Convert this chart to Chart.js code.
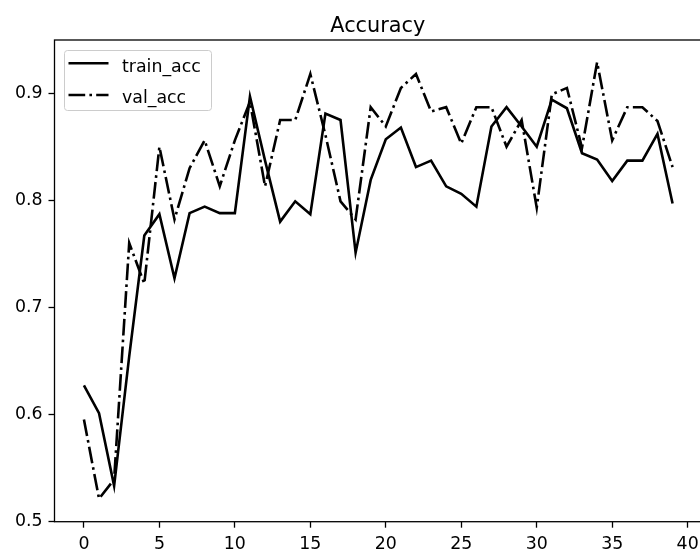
<!DOCTYPE html>
<html>
<head>
<meta charset="utf-8">
<script src="https://cdn.jsdelivr.net/npm/chart.js@4.4.0/dist/chart.umd.min.js"></script>
<style>
  html, body { margin: 0; padding: 0; background: #fff; overflow: hidden; }
  #wrap { width: 712px; height: 552px; }
</style>
</head>
<body>
<div id="wrap"><canvas id="accChart" width="712" height="552"></canvas></div>
<script>
// Epochs and accuracy values
const epochs = [0, 1, 2, 3, 4, 5, 6, 7, 8, 9, 10, 11, 12, 13, 14, 15, 16, 17, 18, 19,
  20, 21, 22, 23, 24, 25, 26, 27, 28, 29, 30, 31, 32, 33, 34, 35, 36, 37, 38, 39];
const trainAcc = [0.627, 0.601, 0.533, 0.654, 0.767, 0.787, 0.727, 0.788, 0.794, 0.788,
  0.788, 0.897, 0.837, 0.780, 0.799, 0.787, 0.881, 0.875, 0.751, 0.819,
  0.857, 0.868, 0.831, 0.837, 0.813, 0.806, 0.794, 0.869, 0.887, 0.869,
  0.850, 0.894, 0.886, 0.844, 0.838, 0.818, 0.837, 0.837, 0.862, 0.797];
const valAcc = [0.595, 0.521, 0.539, 0.760, 0.722, 0.850, 0.782, 0.830, 0.856, 0.813,
  0.856, 0.892, 0.813, 0.875, 0.875, 0.918, 0.861, 0.799, 0.782, 0.887,
  0.869, 0.905, 0.918, 0.883, 0.887, 0.853, 0.887, 0.887, 0.850, 0.875,
  0.793, 0.899, 0.905, 0.849, 0.929, 0.856, 0.887, 0.887, 0.874, 0.831];
const xTicks = [0, 5, 10, 15, 20, 25, 30, 35, 40];
const yTicks = [0.5, 0.6, 0.7, 0.8, 0.9];
const seriesNames = ["train_acc", "val_acc"];
const chartTitle = "Accuracy";

const FONT = "DejaVu Sans";
const valDash = [16.7, 4.2, 2.6, 4.2];

// Spines + title + legend drawn like matplotlib
const mplDecor = {
  id: "mplDecor",
  afterDatasetsDraw(chart) {
    const { ctx, chartArea: a } = chart;
    ctx.save();
    // spines
    ctx.strokeStyle = "#000";
    ctx.lineWidth = 1.3;
    ctx.strokeRect(a.left, a.top, a.right - a.left, a.bottom - a.top);

    // title
    ctx.fillStyle = "#000";
    ctx.font = `20.8px "${FONT}"`;
    ctx.textAlign = "center";
    ctx.textBaseline = "alphabetic";
    ctx.fillText(chartTitle, (a.left + a.right) / 2 - 0.5, 31.5);

    // legend box
    const lx = a.left + 10, ly = a.top + 10.5;
    ctx.beginPath();
    ctx.roundRect(lx, ly, 147, 60, 3);
    ctx.fillStyle = "rgba(255,255,255,0.8)";
    ctx.fill();
    ctx.strokeStyle = "#cccccc";
    ctx.lineWidth = 1;
    ctx.stroke();

    const rows = [63.3, 95];
    ctx.strokeStyle = "#000";
    ctx.lineWidth = 2.6;
    rows.forEach((ry, i) => {
      ctx.setLineDash(i === 1 ? valDash : []);
      ctx.beginPath();
      ctx.moveTo(lx + 4, ry);
      ctx.lineTo(lx + 44, ry);
      ctx.stroke();
    });
    ctx.setLineDash([]);
    ctx.fillStyle = "#000";
    ctx.font = `17.36px "${FONT}"`;
    ctx.textAlign = "left";
    ctx.textBaseline = "alphabetic";
    rows.forEach((ry, i) => ctx.fillText(seriesNames[i], lx + 57.5, ry + 8.2));
    ctx.restore();
  }
};

const tickFont = { family: FONT, size: 17.36 };

const ctx = document.getElementById("accChart").getContext("2d");
new Chart(ctx, {
  type: "line",
  data: {
    datasets: [
      {
        label: seriesNames[0],
        data: epochs.map((e, i) => ({ x: e, y: trainAcc[i] })),
        borderColor: "#000",
        borderWidth: 2.6,
        pointRadius: 0,
        tension: 0,
        fill: false,
      },
      {
        label: seriesNames[1],
        data: epochs.map((e, i) => ({ x: e, y: valAcc[i] })),
        borderColor: "#000",
        borderWidth: 2.6,
        borderDash: valDash,
        pointRadius: 0,
        tension: 0,
        fill: false,
      },
    ],
  },
  options: {
    responsive: false,
    animation: false,
    layout: { padding: { top: 40, right: 10, left: 0, bottom: 0 } },
    plugins: {
      legend: { display: false },
      title: { display: false },
      tooltip: { enabled: false },
    },
    scales: {
      x: {
        type: "linear",
        min: -1.95,
        max: 40.95,
        afterBuildTicks: (s) => { s.ticks = xTicks.map((v) => ({ value: v })); },
        afterFit: (s) => { s.height = 30.3; },
        border: { display: false },
        grid: { display: true, drawOnChartArea: false, drawTicks: true, tickLength: 6, tickColor: "#000", tickWidth: 1.3 },
        ticks: {
          color: "#000",
          font: tickFont,
          padding: 6,
          maxRotation: 0,
          autoSkip: false,
          callback: (v) => String(v),
        },
      },
      y: {
        min: 0.4995,
        max: 0.9498,
        afterBuildTicks: (s) => { s.ticks = yTicks.map((v) => ({ value: v })); },
        afterFit: (s) => { s.width = 54.5; },
        border: { display: false },
        grid: { display: true, drawOnChartArea: false, drawTicks: true, tickLength: 6, tickColor: "#000", tickWidth: 1.3 },
        ticks: {
          color: "#000",
          font: tickFont,
          padding: 6,
          autoSkip: false,
          callback: (v) => v.toFixed(1),
        },
      },
    },
  },
  plugins: [mplDecor],
});
</script>
</body>
</html>
